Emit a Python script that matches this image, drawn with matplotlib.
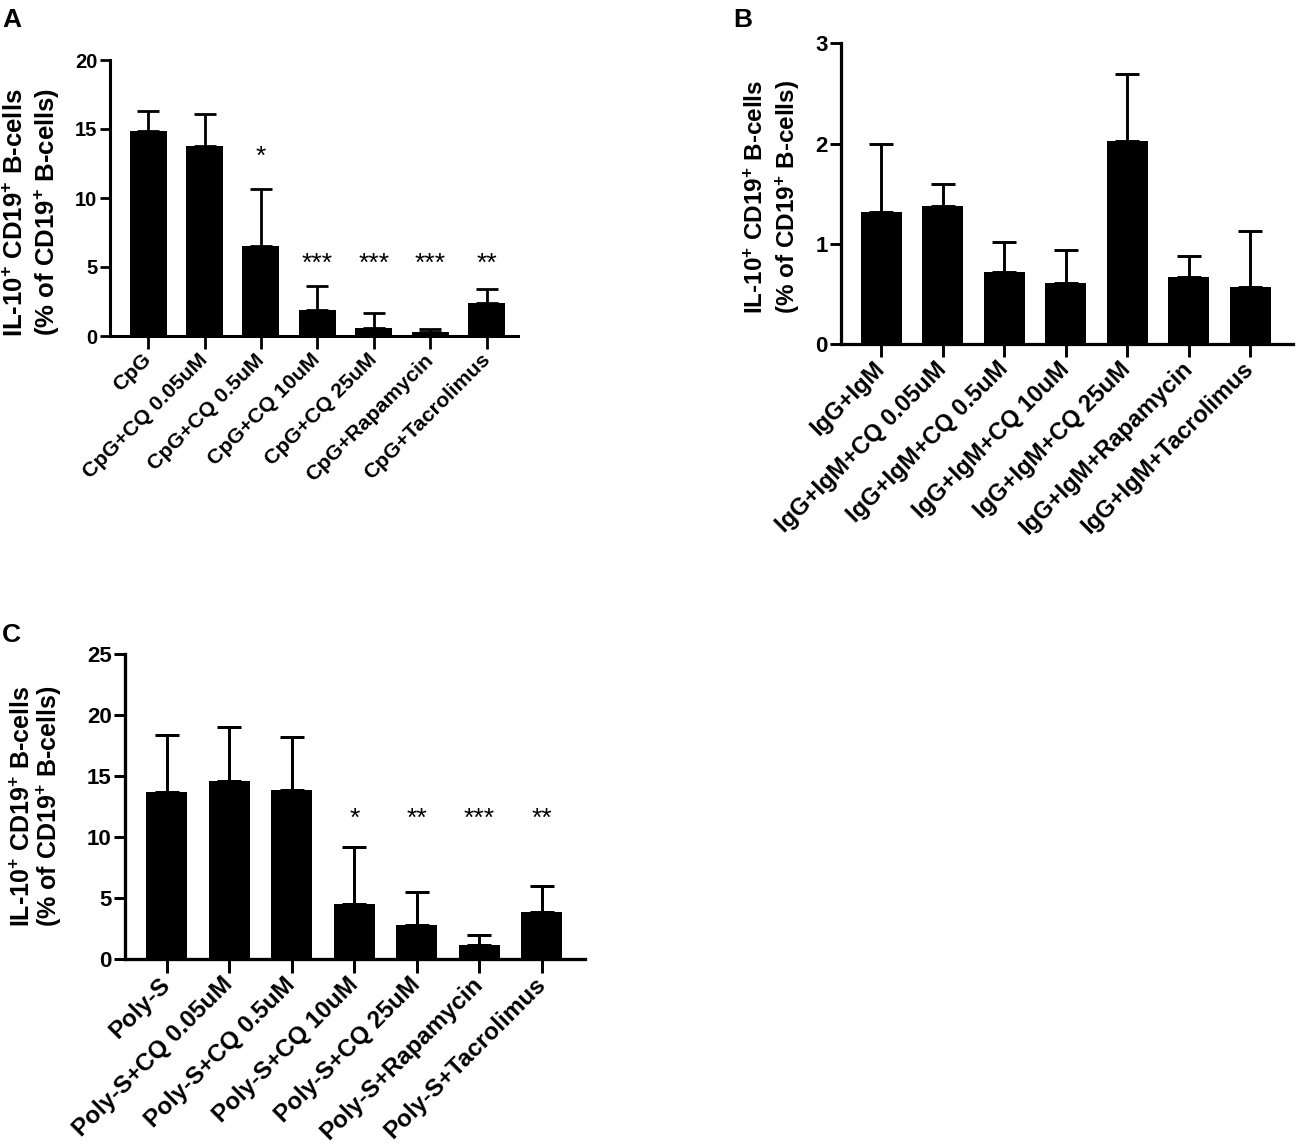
import matplotlib
matplotlib.use('Agg')
import matplotlib.pyplot as plt
import numpy as np

plt.rcParams['font.family'] = ['Liberation Sans', 'DejaVu Sans']
plt.rcParams['font.weight'] = 'bold'
plt.rcParams['mathtext.fontset'] = 'custom'
plt.rcParams['mathtext.rm'] = 'Liberation Sans:bold'
plt.rcParams['mathtext.bf'] = 'Liberation Sans:bold'
plt.rcParams['mathtext.it'] = 'Liberation Sans:bold'
plt.rcParams['mathtext.sf'] = 'Liberation Sans:bold'
plt.rcParams['mathtext.default'] = 'rm'

# ---------------- data ----------------
labels_A = ['CpG', 'CpG+CQ 0.05uM', 'CpG+CQ 0.5uM', 'CpG+CQ 10uM',
            'CpG+CQ 25uM', 'CpG+Rapamycin', 'CpG+Tacrolimus']
mean_A = [14.86, 13.80, 6.54, 1.88, 0.55, 0.27, 2.37]
sd_A = [1.44, 2.27, 4.09, 1.76, 1.09, 0.22, 1.01]
stars_A = ['', '', '*', '***', '***', '***', '**']
star_level_A = [0, 0, 12.95, 5.25, 5.25, 5.25, 5.25]
yticks_A = [0, 5, 10, 15, 20]

labels_B = ['IgG+IgM', 'IgG+IgM+CQ 0.05uM', 'IgG+IgM+CQ 0.5uM', 'IgG+IgM+CQ 10uM',
            'IgG+IgM+CQ 25uM', 'IgG+IgM+Rapamycin', 'IgG+IgM+Tacrolimus']
mean_B = [1.314, 1.377, 0.720, 0.612, 2.026, 0.669, 0.572]
sd_B = [0.682, 0.223, 0.298, 0.323, 0.669, 0.209, 0.553]
stars_B = ['', '', '', '', '', '', '']
star_level_B = [0, 0, 0, 0, 0, 0, 0]
yticks_B = [0, 1, 2, 3]

labels_C = ['Poly-S', 'Poly-S+CQ 0.05uM', 'Poly-S+CQ 0.5uM', 'Poly-S+CQ 10uM',
            'Poly-S+CQ 25uM', 'Poly-S+Rapamycin', 'Poly-S+Tacrolimus']
mean_C = [13.68, 14.61, 13.90, 4.54, 2.80, 1.14, 3.86]
sd_C = [4.71, 4.43, 4.27, 4.68, 2.72, 0.82, 2.15]
stars_C = ['', '', '', '*', '**', '***', '**']
star_level_C = [0, 0, 0, 11.5, 11.5, 11.5, 11.5]
yticks_C = [0, 5, 10, 15, 20, 25]

ylabel_lines = [r'IL-10$^{+}$ CD19$^{+}$ B-cells', r'(% of CD19$^{+}$ B-cells)']
panel_letters = ['A', 'B', 'C']

W, H = 1299, 1148
fig = plt.figure(figsize=(W / 100, H / 100), dpi=100)


def make_axes(left, right, top, bottom):
    return fig.add_axes([left / W, 1 - bottom / H, (right - left) / W, (bottom - top) / H])


def fig_text(xpx, ypx, s, **kw):
    return fig.text(xpx / W, 1 - ypx / H, s, **kw)


def panel(ax, labels, mean, sd, stars, star_level, yticks, xlim, width,
          xfs, yfs, tick_scale):
    x = np.arange(len(labels))
    ax.bar(x, mean, width=width, color='black', edgecolor='black', linewidth=0, zorder=2)
    ax.errorbar(x, mean, yerr=[np.zeros(len(sd)), sd], fmt='none', ecolor='black',
                elinewidth=2.0 * tick_scale, capsize=8 * tick_scale,
                capthick=2.0 * tick_scale, zorder=1)
    for xi, s, lv in zip(x, stars, star_level):
        if s:
            ax.text(xi, lv, s, ha='center', va='center', fontsize=19,
                    fontweight='normal', color='black')
    ax.set_xlim(*xlim)
    ax.set_ylim(0, yticks[-1])
    ax.set_yticks(yticks)
    ax.set_yticklabels([str(t) for t in yticks], fontsize=yfs, fontweight='bold')
    ax.set_xticks(x)
    ax.set_xticklabels(labels, rotation=45, ha='right', va='center',
                       rotation_mode='anchor', fontsize=xfs, fontweight='bold')
    for s in ['top', 'right']:
        ax.spines[s].set_visible(False)
    for s in ['left', 'bottom']:
        ax.spines[s].set_linewidth(2.2 * tick_scale)
    ax.tick_params(axis='y', length=7.5 * tick_scale, width=2.0 * tick_scale, pad=1.5)
    ax.tick_params(axis='x', length=9 * tick_scale, width=2.0 * tick_scale, pad=6)


def ylabel_block(x1, x2, ytop, fs):
    for xb, line in zip((x1, x2), ylabel_lines):
        fig_text(xb, ytop, line, rotation=90, rotation_mode='anchor',
                 ha='right', va='baseline', fontsize=fs, fontweight='bold')


axA = make_axes(110, 518, 60, 336)
panel(axA, labels_A, mean_A, sd_A, stars_A, star_level_A, yticks_A,
      (-0.673, 6.55), 0.655, 15.3, 14.5, 1.0)
ylabel_block(23, 55, 88, 18.5)

axB = make_axes(840.7, 1292.7, 43.3, 344)
panel(axB, labels_B, mean_B, sd_B, stars_B, star_level_B, yticks_B,
      (-0.66, 6.69), 0.667, 17, 16, 1.05)
ylabel_block(763, 795, 80, 17.5)

axC = make_axes(125, 585, 654, 959.3)
panel(axC, labels_C, mean_C, sd_C, stars_C, star_level_C, yticks_C,
      (-0.672, 6.69), 0.656, 17.5, 16, 1.08)
ylabel_block(30, 57, 686, 18)

for (px, py), letter in zip([(2, 8), (733, 8), (2, 623)], panel_letters):
    fig_text(px, py, letter, fontsize=19, fontweight='bold', ha='left', va='top')

fig.savefig('out.png', dpi=100)
